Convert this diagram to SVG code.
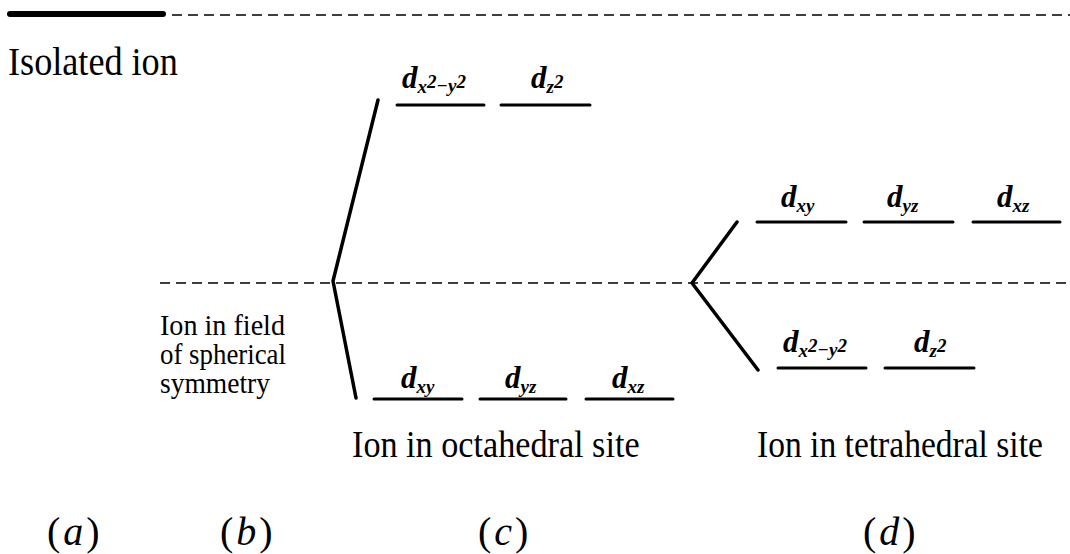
<svg xmlns="http://www.w3.org/2000/svg" width="1070" height="554" viewBox="0 0 1070 554">
<style>
.t{font-family:"Liberation Serif","Times New Roman",serif;fill:#000}
.d{font-family:"Liberation Serif","Times New Roman",serif;font-style:italic;font-weight:bold;font-size:31px;fill:#000}
.s{font-size:19px}
.p{font-family:"Liberation Serif","Times New Roman",serif;font-size:40px;letter-spacing:3px;fill:#000}
.lv{stroke:#000;stroke-width:3;stroke-linecap:round}
.br{stroke:#000;stroke-width:3.5;fill:none;stroke-linecap:round;stroke-linejoin:round}
.da{stroke:#000;stroke-width:1.5;stroke-dasharray:10 6}
</style>
<rect width="1070" height="554" fill="#fff"/>
<g id="connectors">
<line x1="10" y1="14" x2="163" y2="14" stroke="#000" stroke-width="6" stroke-linecap="round"/>
<line class="da" x1="172" y1="15" x2="1070" y2="15"/>
<line class="da" x1="160" y1="283" x2="1070" y2="283"/>
<polyline class="br" points="378,100 333,281 356,398"/>
<polyline class="br" points="737,222 692,283 758,370"/>
</g>
<g id="isolated">
<text class="t" font-size="40" transform="translate(8,75) scale(0.905,1)">Isolated ion</text>
</g>
<g id="spherical">
<text class="t" x="160" y="335" font-size="29" textLength="125" lengthAdjust="spacingAndGlyphs">Ion in field</text>
<text class="t" x="160" y="364" font-size="29" textLength="126" lengthAdjust="spacingAndGlyphs">of spherical</text>
<text class="t" x="160" y="393" font-size="29" textLength="110" lengthAdjust="spacingAndGlyphs">symmetry</text>
</g>
<g id="octahedral">
<line class="lv" x1="397" y1="105" x2="484" y2="105"/>
<line class="lv" x1="501" y1="105" x2="590" y2="105"/>
<text class="d" x="402" y="88">d<tspan class="s" dy="5">x</tspan><tspan class="s" dy="-5">2</tspan><tspan class="s" dy="4">−y</tspan><tspan class="s" dy="-4">2</tspan></text>
<text class="d" x="531" y="88">d<tspan class="s" dy="5">z</tspan><tspan class="s" dy="-5">2</tspan></text>
<line class="lv" x1="374" y1="399" x2="462" y2="399"/>
<line class="lv" x1="480" y1="399" x2="566" y2="399"/>
<line class="lv" x1="586" y1="399" x2="673" y2="399"/>
<text class="d" x="401" y="388">d<tspan class="s" dy="5">xy</tspan></text>
<text class="d" x="505" y="388">d<tspan class="s" dy="5">yz</tspan></text>
<text class="d" x="612" y="388">d<tspan class="s" dy="5">xz</tspan></text>
<text class="t" font-size="38" transform="translate(352,457) scale(0.9,1)">Ion in octahedral site</text>
</g>
<g id="tetrahedral">
<line class="lv" x1="757" y1="222" x2="846" y2="222"/>
<line class="lv" x1="864" y1="222" x2="953" y2="222"/>
<line class="lv" x1="973" y1="222" x2="1060" y2="222"/>
<text class="d" x="781" y="207">d<tspan class="s" dy="5">xy</tspan></text>
<text class="d" x="887" y="207">d<tspan class="s" dy="5">yz</tspan></text>
<text class="d" x="997" y="207">d<tspan class="s" dy="5">xz</tspan></text>
<line class="lv" x1="778" y1="368" x2="866" y2="368"/>
<line class="lv" x1="885" y1="368" x2="974" y2="368"/>
<text class="d" x="783" y="352">d<tspan class="s" dy="5">x</tspan><tspan class="s" dy="-5">2</tspan><tspan class="s" dy="4">−y</tspan><tspan class="s" dy="-4">2</tspan></text>
<text class="d" x="914" y="352">d<tspan class="s" dy="5">z</tspan><tspan class="s" dy="-5">2</tspan></text>
<text class="t" font-size="38" transform="translate(757,457) scale(0.883,1)">Ion in tetrahedral site</text>
</g>
<g id="labels">
<text class="p" x="47" y="545">(<tspan font-style="italic">a</tspan>)</text>
<text class="p" x="220" y="545">(<tspan font-style="italic">b</tspan>)</text>
<text class="p" x="478" y="545">(<tspan font-style="italic">c</tspan>)</text>
<text class="p" x="863" y="545">(<tspan font-style="italic">d</tspan>)</text>
</g>
</svg>
